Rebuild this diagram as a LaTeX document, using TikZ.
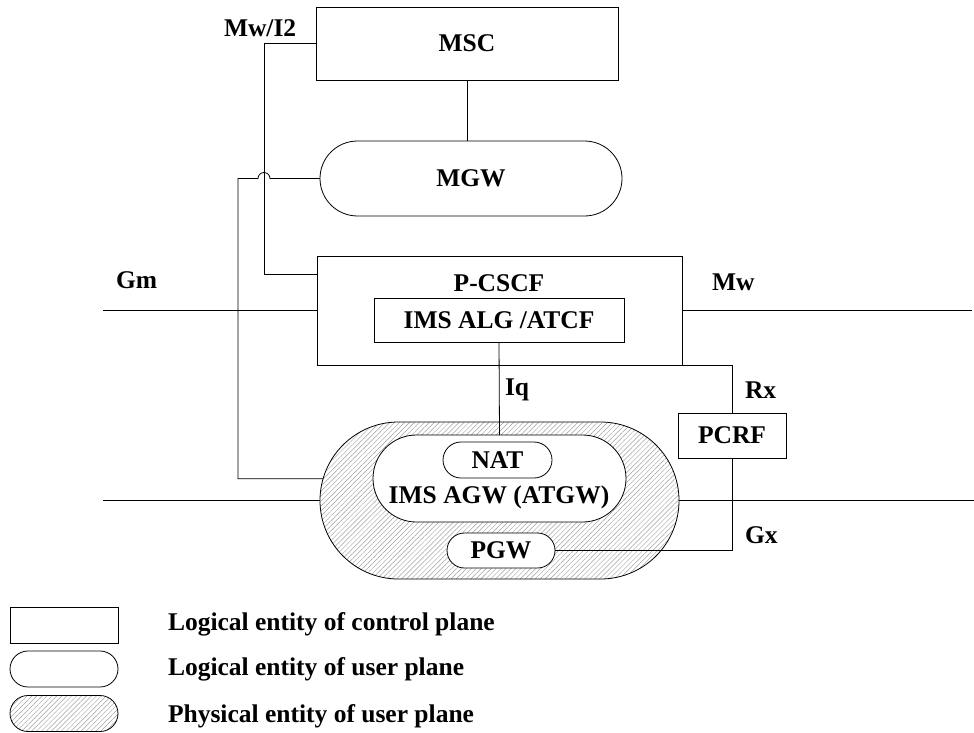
\documentclass[tikz,border=0pt]{standalone}
\usepackage{fontspec}
\setmainfont{Liberation Serif}
\usetikzlibrary{calc,shapes.misc,patterns.meta}

\begin{document}
\begin{tikzpicture}[x=1pt,y=-1pt,
        font=\bfseries\fontsize{25.5}{30}\selectfont,
        every node/.style={inner sep=0pt,outer sep=0pt},
        ctrlbox/.style={draw,rectangle,line width=0.8pt},
        userbox/.style={draw,rounded rectangle,line width=0.8pt,fill=white},
        physbox/.style={draw,rounded rectangle,line width=0.8pt,
            pattern={Lines[angle=45,distance=3.5pt,line width=0.45pt]},pattern color=gray!75},
        lbl/.style={anchor=west},
        wire/.style={line width=0.8pt}]
    \useasboundingbox (0,0) rectangle (974,733);

    \node[ctrlbox,minimum width=302,minimum height=73] (msc) at (467,43.5) {MSC};
    \node[userbox,minimum width=302,minimum height=75] (mgw) at (471,178.5) {MGW};
    \node[ctrlbox,minimum width=365,minimum height=109] (pcscf) at (499.5,310.5) {};
    \node (pcscflbl) at (499,283) {P-CSCF};
    \node[ctrlbox,minimum width=250,minimum height=44] (alg) at (499,320) {IMS ALG /ATCF};
    \node[ctrlbox,minimum width=108,minimum height=45] (pcrf) at (732,435.5) {PCRF};

    \node[physbox,minimum width=359,minimum height=157] (agw) at (499.5,500.5) {};
    \node[userbox,minimum width=253,minimum height=87] (atgw) at (499.5,478.5) {};
    \node (atgwlbl) at (499,497) {IMS AGW (ATGW)};
    \node[userbox,minimum width=109,minimum height=36] (nat) at (497.5,460) {NAT};
    \node[userbox,minimum width=108,minimum height=35] (pgw) at (501,550.5) {PGW};

    \node[lbl] (mwi2lbl) at (224,28) {Mw/I2};
    \node[lbl] (gmlbl) at (116,280) {Gm};
    \node[lbl] (mwlbl) at (712,282) {Mw};
    \node[lbl] (iqlbl) at (505,390) {Iq};
    \node[lbl] (rxlbl) at (745,390) {Rx};
    \node[lbl] (gxlbl) at (745,535) {Gx};

    \coordinate (mwi2) at (264,43.5);
    \coordinate (gm) at (103,310.5);
    \coordinate (mw) at (972,310.5);
    \coordinate (ul) at (103,500.5);
    \coordinate (ur) at (974,500.5);
    \coordinate (hop) at (264,178.5);

    \draw[wire] (msc) -- (msc |- mgw.north);
    \draw[wire] (msc.west) -- (mwi2) |- ($(pcscf.north west)+(0,18)$);
    \draw[wire] (mgw.west) -- ($(hop)+(6,0)$) arc (0:-180:6) -- (238,178.5) |- (agw.173);
    \draw[wire] (gm) -- (pcscf.west);
    \draw[wire] (pcscf.east) -- (mw);
    \draw[wire] (alg.south) -- (atgw.north);
    \draw[wire] (pcscf.south east) -| (pcrf.north);
    \draw[wire] (pgw.east) -| (pcrf.south);
    \draw[wire] (ul) -- (agw.west);
    \draw[wire] (agw.east) -- (ur);

    \node[ctrlbox,minimum width=108,minimum height=36] (lgctrl) at (64,625) {};
    \node[userbox,minimum width=108,minimum height=36] (lguser) at (64,669) {};
    \node[physbox,minimum width=108,minimum height=36] (lgphys) at (64,713.5) {};
    \node[lbl] (lgctrltxt) at (168,624) {Logical entity of control plane};
    \node[lbl] (lgusertxt) at (168,669) {Logical entity of user plane};
    \node[lbl] (lgphystxt) at (168,716) {Physical entity of user plane};
\end{tikzpicture}
\end{document}
